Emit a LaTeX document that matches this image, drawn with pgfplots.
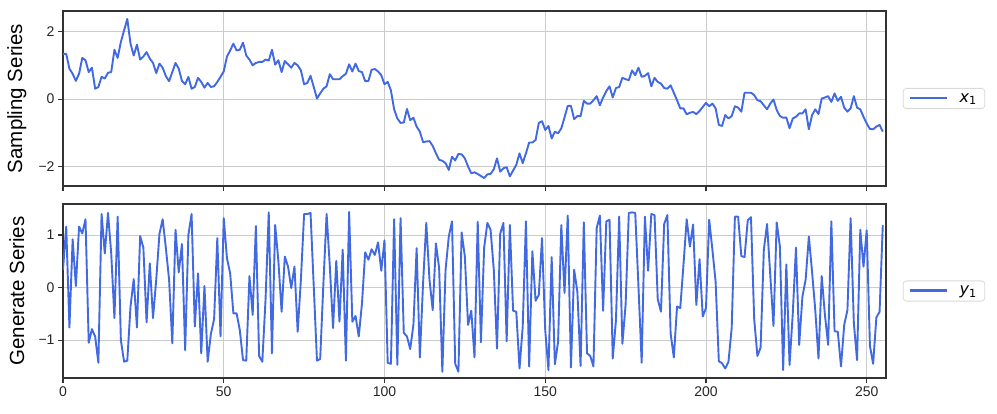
\documentclass[border=0pt]{standalone}
\usepackage{pgfplots}
\pgfplotsset{compat=1.18}
\usepackage{pgfplotstable}
\usepackage{fontspec}
\setmainfont{Liberation Sans}
\newfontfamily\djv{DejaVu Sans}

\definecolor{lineblue}{HTML}{4169E1}
\definecolor{framegray}{HTML}{333333}
\definecolor{gridgray}{HTML}{CCCCCC}

% sampling series x_1, one value per step 0..255
\pgfplotstableread{
v
1.34
1.34
0.90
0.75
0.54
0.75
1.22
1.15
0.80
0.93
0.31
0.36
0.66
0.61
0.78
0.80
1.46
1.22
1.69
2.03
2.37
1.64
1.29
1.61
1.17
1.26
1.39
1.20
1.07
0.77
1.05
0.93
0.68
0.53
0.80
1.07
0.90
0.54
0.44
0.66
0.31
0.36
0.63
0.51
0.34
0.48
0.36
0.38
0.51
0.66
0.82
1.26
1.44
1.64
1.44
1.46
1.67
1.29
1.17
1.00
1.07
1.10
1.10
1.17
1.14
1.46
1.02
1.15
0.80
1.13
1.03
0.93
1.07
1.00
0.85
0.44
0.48
0.69
0.36
0.02
0.17
0.31
0.38
0.74
0.59
0.59
0.59
0.68
0.75
1.03
0.82
1.05
0.83
0.80
0.53
0.54
0.87
0.89
0.82
0.71
0.44
0.51
0.26
-0.30
-0.57
-0.70
-0.69
-0.29
-0.62
-0.55
-0.81
-0.96
-1.27
-1.25
-1.24
-1.38
-1.60
-1.79
-1.82
-1.89
-2.09
-1.70
-1.81
-1.62
-1.63
-1.75
-1.99
-2.19
-2.16
-2.21
-2.27
-2.33
-2.22
-2.21
-2.07
-1.75
-2.14
-2.04
-2.01
-2.28
-2.11
-1.94
-1.60
-1.89
-1.60
-1.28
-1.28
-1.21
-0.70
-0.65
-0.91
-0.79
-1.16
-0.96
-1.01
-0.86
-0.54
-0.20
-0.20
-0.59
-0.50
-0.50
-0.05
-0.13
-0.13
-0.03
0.09
-0.18
0.05
0.24
0.38
0.05
0.33
0.36
0.63
0.59
0.56
0.85
0.71
0.93
0.66
0.69
0.77
0.38
0.63
0.51
0.46
0.33
0.31
0.41
0.19
-0.03
-0.27
-0.27
-0.45
-0.40
-0.38
-0.44
-0.35
-0.23
-0.11
-0.21
-0.13
-0.27
-0.76
-0.79
-0.47
-0.57
-0.50
-0.21
-0.25
-0.37
0.19
0.19
0.19
0.12
-0.03
-0.06
-0.18
-0.30
-0.13
-0.01
-0.32
-0.50
-0.55
-0.54
-0.86
-0.57
-0.52
-0.42
-0.42
-0.30
-0.89
-0.47
-0.30
-0.44
0.02
0.05
0.09
-0.08
0.17
-0.05
0.07
-0.25
-0.37
-0.27
0.09
-0.25
-0.30
-0.52
-0.72
-0.88
-0.89
-0.81
-0.76
-0.96
}\sampling

% generated series y_1
\pgfplotstableread{
v
0.34
1.16
-0.76
0.92
0.03
1.16
1.03
1.30
-1.05
-0.79
-0.93
-1.43
1.40
0.65
1.42
0.65
-0.58
1.35
-1.00
-1.41
-1.39
-0.36
0.16
-0.76
0.98
0.76
-0.66
0.46
-0.58
0.15
1.02
1.30
0.75
0.15
-1.06
1.10
0.29
0.83
-1.19
1.00
1.40
-0.74
0.27
-1.25
0.03
-1.41
-0.88
-0.60
0.94
-0.93
1.32
0.56
0.27
-0.49
-0.49
-0.81
-1.38
-1.39
0.22
-0.52
1.17
-1.30
-1.41
-0.23
1.43
-1.25
1.19
0.50
-0.46
0.59
0.40
-0.01
0.40
-0.84
0.15
1.40
1.40
1.42
0.02
-1.39
-1.36
0.08
1.40
0.40
-0.77
0.51
-0.65
0.72
-1.39
1.44
-0.65
-0.54
-0.93
-0.30
0.67
0.53
0.73
0.62
0.86
0.32
0.90
-1.43
-1.45
1.30
-1.47
1.32
-0.86
-0.93
-1.17
-0.71
0.75
-1.33
0.08
1.23
0.15
-0.43
0.84
0.37
-1.60
0.34
0.97
1.26
-1.45
-1.60
1.05
0.59
-0.71
-0.44
-1.33
1.25
-1.04
0.76
1.23
1.10
0.34
-1.16
1.03
1.23
-1.02
1.19
-0.44
-0.46
-1.54
-0.74
1.26
-1.50
0.69
-0.25
-0.14
0.94
-0.81
-1.57
0.58
-1.46
-1.03
1.19
-0.10
1.37
-1.52
0.34
-0.08
-1.49
1.24
-1.25
-1.30
-1.50
1.13
1.37
-0.44
1.26
1.29
-1.35
-0.62
1.35
-1.07
-0.33
1.42
1.43
1.42
0.02
-1.43
1.35
0.32
1.40
1.38
-0.22
-0.46
1.21
1.38
-0.87
-1.33
-0.36
-0.39
0.43
1.30
0.78
1.20
-0.33
0.54
-0.55
-0.39
1.29
0.72
0.11
-1.40
-1.44
-1.54
-1.41
-0.77
1.35
1.35
0.60
0.58
1.28
1.34
-0.60
-1.30
-1.14
0.72
1.21
0.24
-0.73
1.24
0.78
-1.57
0.44
-1.47
-0.49
0.76
-1.09
-0.17
0.15
0.97
0.30
-0.43
-1.35
0.22
-0.52
-1.09
1.26
-0.83
-0.84
-1.50
-0.71
-0.43
1.32
-0.68
-1.38
1.10
0.40
1.09
-1.11
-1.45
-0.57
-0.46
1.19
}\generated

\pgfplotsset{
  panel/.style={
    scale only axis,
    width=823pt,
    xmin=0, xmax=256,
    xtick={0,50,100,150,200,250},
    grid=major,
    major grid style={line width=0.8pt, gridgray},
    axis line style={line width=1.2pt, framegray},
    tick style={line width=1.2pt, framegray},
    tick align=outside,
    major tick length=5pt,
    xtick pos=bottom, ytick pos=left,
    tick label style={font=\fontsize{14}{16}\selectfont, text=black!85},
    /pgf/number format/assume math mode=true,
    ylabel style={font=\fontsize{20.5}{24}\selectfont, at={(axis description cs:-0.056,0.5)}, anchor=center, rotate=0},
    legend style={at={(1.0205,0.5)}, anchor=west, draw=gray!30, line width=0.8pt,
      rounded corners=3pt, font=\fontsize{16}{19}\selectfont,
      inner xsep=6pt, inner ysep=3pt},
    legend cell align=left,
    legend image code/.code={\draw[##1, line width=2.3pt] (0pt,0.6pt) -- (37pt,0.6pt);},
  },
  series/.style={lineblue, line width=1.9pt, line join=round, no marks},
}

\begin{document}
\begin{tikzpicture}
\useasboundingbox (0pt,0pt) rectangle (997pt,-414pt);

\begin{axis}[panel,
    at={(63pt,-11pt)}, anchor=north west,
    height=175pt,
    ymin=-2.565, ymax=2.605,
    ytick={-2,0,2}, yticklabels={−2,0,2},
    xticklabels={},
    ylabel={Sampling Series},
  ]
  \addplot[series] table[x expr=\coordindex, y=v] {\sampling};
  \addlegendentry{\hspace{9pt}{\djv\itshape x}{\djv\textsubscript{1}}}
\end{axis}

\begin{axis}[panel,
    at={(63pt,-204pt)}, anchor=north west,
    height=174pt,
    ymin=-1.72, ymax=1.59,
    ytick={-1,0,1}, yticklabels={−1,0,1},
    ylabel={Generate Series},
  ]
  \addplot[series] table[x expr=\coordindex, y=v] {\generated};
  \addlegendentry{\hspace{9pt}{\djv\itshape y}{\djv\textsubscript{1}}}
\end{axis}
\end{tikzpicture}
\end{document}
